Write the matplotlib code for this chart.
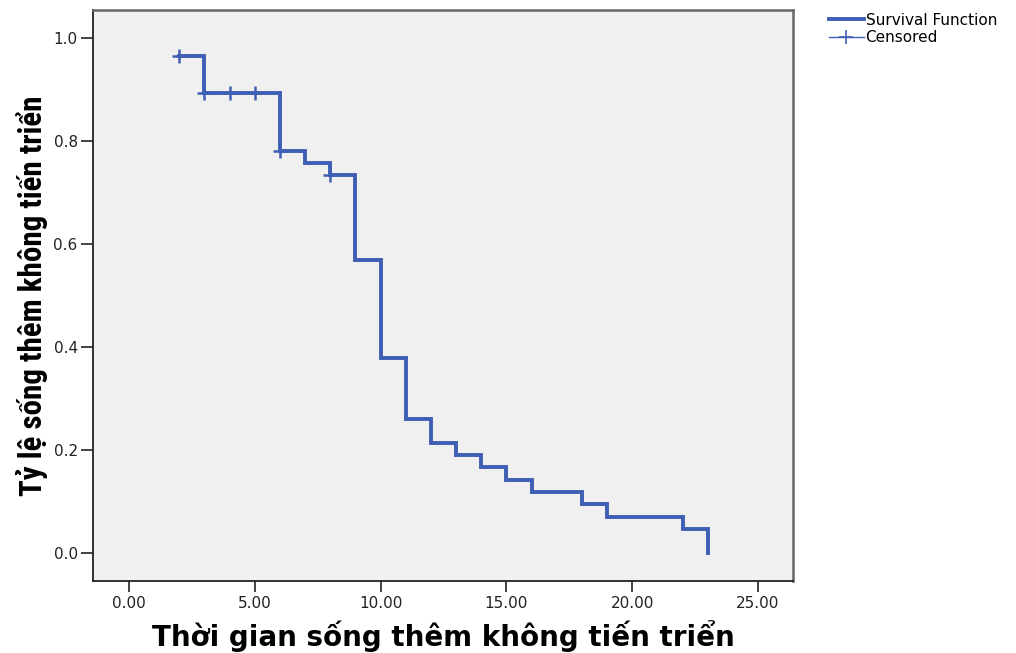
import numpy as np
import matplotlib
matplotlib.use("Agg")
import matplotlib.pyplot as plt
from matplotlib.lines import Line2D
from matplotlib.ticker import FormatStrFormatter
from matplotlib import font_manager as fm

times = [2, 3, 6, 7, 8, 9, 10, 11, 12, 13, 14, 15, 16, 18, 19, 22, 23]
survival = [0.965, 0.893, 0.781, 0.757, 0.734, 0.569, 0.379, 0.260, 0.214,
            0.190, 0.167, 0.143, 0.119, 0.095, 0.071, 0.048, 0.0]
censored_times = [2, 3, 4, 5, 6, 8]
x_ticks = [0, 5, 10, 15, 20, 25]
y_ticks = [0.0, 0.2, 0.4, 0.6, 0.8, 1.0]

xlabel = "Thời gian sống thêm không tiến triển"
ylabel = "Tỷ lệ sống thêm không tiến triển"

blue = "#3f5fb5"

# pick a condensed bold font for the y label if available
names = {f.name for f in fm.fontManager.ttflist}
cond_fp = None
for nm in ["Liberation Sans Narrow", "Roboto Condensed", "Open Sans Condensed", "Noto Sans Condensed"]:
    if nm in names:
        cond_fp = fm.FontProperties(family=nm, weight="bold")
        break
if cond_fp is None:
    has_dv_cond = any(f.name == "DejaVu Sans" and f.stretch == "condensed" for f in fm.fontManager.ttflist)
    if has_dv_cond:
        cond_fp = fm.FontProperties(family="DejaVu Sans", weight="bold", stretch="condensed")
    else:
        cond_fp = fm.FontProperties(family="Liberation Sans", weight="bold")

fig = plt.figure(figsize=(10.16, 6.53), dpi=100)
ax = fig.add_axes([0.0915, 0.110, 0.689, 0.8747])
ax.set_facecolor("#f0f0f0")

ax.step(times, survival, where="post", color=blue, lw=2.8, solid_joinstyle="miter")
idx = np.searchsorted(times, censored_times, side="right") - 1
cens_y = [survival[i] for i in idx]
ax.plot(censored_times, cens_y, ls="none", marker="+", ms=10, mew=1.8, color=blue)

ax.set_xlim(-1.43, 26.39)
ax.set_ylim(-0.054, 1.054)
ax.set_xticks(x_ticks)
ax.set_yticks(y_ticks)
ax.xaxis.set_major_formatter(FormatStrFormatter("%.2f"))
ax.yaxis.set_major_formatter(FormatStrFormatter("%.1f"))
ax.tick_params(axis="x", length=8, width=1.2, labelsize=11, pad=3, colors="#222222")
ax.tick_params(axis="y", length=9, width=1.2, labelsize=11, pad=2, colors="#222222")
for lab in ax.get_xticklabels() + ax.get_yticklabels():
    lab.set_family("DejaVu Sans")

for side in ["left", "bottom"]:
    ax.spines[side].set_color("#222222")
    ax.spines[side].set_linewidth(1.3)
for side in ["top", "right"]:
    ax.spines[side].set_color("#666666")
    ax.spines[side].set_linewidth(1.8)

ax.set_xlabel(xlabel, fontsize=20, fontweight="bold", family="DejaVu Sans", labelpad=6)

# y label: fit to ~400 px length
fig.canvas.draw()
renderer = fig.canvas.get_renderer()
size = 22.0
for _ in range(4):
    fp = cond_fp.copy()
    fp.set_size(size)
    t = fig.text(0, 0, ylabel, fontproperties=fp, rotation=90)
    h = t.get_window_extent(renderer).height
    t.remove()
    size = min(26.0, size * 400.0 / h)
fp = cond_fp.copy()
fp.set_size(size)
ax.set_ylabel(ylabel, fontproperties=fp, labelpad=4)

handles = [Line2D([], [], color=blue, lw=2.8),
           Line2D([], [], color=blue, lw=1.0, marker="+", ms=10, mew=1.2)]
fig.legend(handles, ["Survival Function", "Censored"], loc="upper left",
           bbox_to_anchor=(0.805, 0.997), frameon=False,
           prop={"family": "DejaVu Sans", "size": 11},
           handlelength=2.3, handletextpad=0.12, labelspacing=0.15, borderpad=0.2)

fig.savefig("out.png", dpi=100)
